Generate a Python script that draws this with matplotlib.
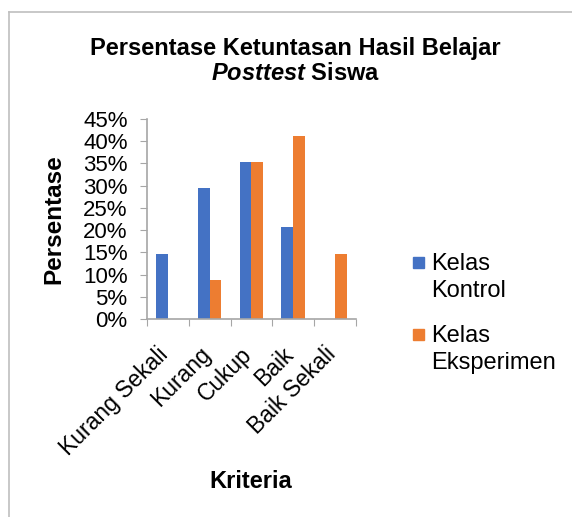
import matplotlib
matplotlib.use("Agg")
import matplotlib.pyplot as plt
import numpy as np
from matplotlib.lines import Line2D
from matplotlib.patches import Rectangle
from matplotlib.ticker import PercentFormatter
from matplotlib.transforms import ScaledTranslation

plt.rcParams['font.family'] = ['Liberation Sans', 'DejaVu Sans']
plt.rcParams['mathtext.fontset'] = 'custom'
plt.rcParams['mathtext.it'] = 'Liberation Sans:italic:bold'
plt.rcParams['mathtext.rm'] = 'Liberation Sans:bold'

kriteria = ['Kurang Sekali', 'Kurang', 'Cukup', 'Baik', 'Baik Sekali']
kontrol = [14.7, 29.4, 35.3, 20.6, 0]
eksperimen = [0, 8.8, 35.3, 41.2, 14.7]
series_names = ['Kelas\nKontrol', 'Kelas\nEksperimen']
yticks = [0, 5, 10, 15, 20, 25, 30, 35, 40, 45]

blue = '#4472C4'
orange = '#ED7D31'

fig = plt.figure(figsize=(5.72, 5.17), dpi=100)
ax = fig.add_axes([0.257, 0.383, 0.365, 0.387])

x = np.arange(len(kriteria))
w = 0.28
ax.bar(x - w / 2, kontrol, w, color=blue)
ax.bar(x + w / 2, eksperimen, w, color=orange)

ax.set_xlim(-0.5, len(kriteria) - 0.5)
ax.set_ylim(0, 45)
ax.set_yticks(yticks)
ax.yaxis.set_major_formatter(PercentFormatter(decimals=0))
ax.set_xticks(np.arange(-0.5, len(kriteria), 1.0))
ax.set_xticklabels([])
ax.set_xticks(x, minor=True)
ax.set_xticklabels(kriteria, minor=True, rotation=45, ha='right',
                   rotation_mode='anchor', fontsize=16.5)
ax.tick_params(axis='x', which='minor', length=0, pad=17)
ax.tick_params(axis='x', which='major', length=5, color='#A6A6A6')
ax.tick_params(axis='y', length=5, color='#A6A6A6', labelsize=16, pad=9)
# nudge rotated labels back along their direction, as Excel places them
shift = ScaledTranslation(-0.11, 0, fig.dpi_scale_trans)
for lbl in ax.get_xticklabels(minor=True):
    lbl.set_transform(lbl.get_transform() + shift)

for s in ['top', 'right']:
    ax.spines[s].set_visible(False)
for s in ['left', 'bottom']:
    ax.spines[s].set_color('#A6A6A6')
    ax.spines[s].set_linewidth(1.2)

ax.set_ylabel('Persentase', fontsize=17.5, fontweight='bold')
ax.yaxis.set_label_coords(-0.39, 0.5)
fig.text(0.439, 0.069, 'Kriteria', fontsize=17, fontweight='bold',
         ha='center', va='center')

fig.text(0.516, 0.882, 'Persentase Ketuntasan Hasil Belajar\n$Posttest$ Siswa',
         fontsize=17, fontweight='bold', ha='center', va='center',
         linespacing=1.15)

# legend, Excel style: marker beside the first line of each label
leg_colors = [blue, orange]
first_base = [269, 341]
last_base = [297, 369]
for name, c, yb, yl in zip(series_names, leg_colors, first_base, last_base):
    fig.add_artist(Rectangle((413 / 572, 1 - (yb - 1) / 517), 11 / 572, 11 / 517,
                             transform=fig.transFigure, color=c))
    fig.text(431 / 572, 1 - yl / 517, name, fontsize=17, ha='left',
             va='baseline', linespacing=1.3)

# outer chart border (partially cropped)
fig.add_artist(Line2D([0.016, 0.016], [0.0, 0.977], color='#BFBFBF', lw=1.2))
fig.add_artist(Line2D([0.016, 1.0], [0.977, 0.977], color='#BFBFBF', lw=1.2))

fig.savefig('out.png', dpi=100)
